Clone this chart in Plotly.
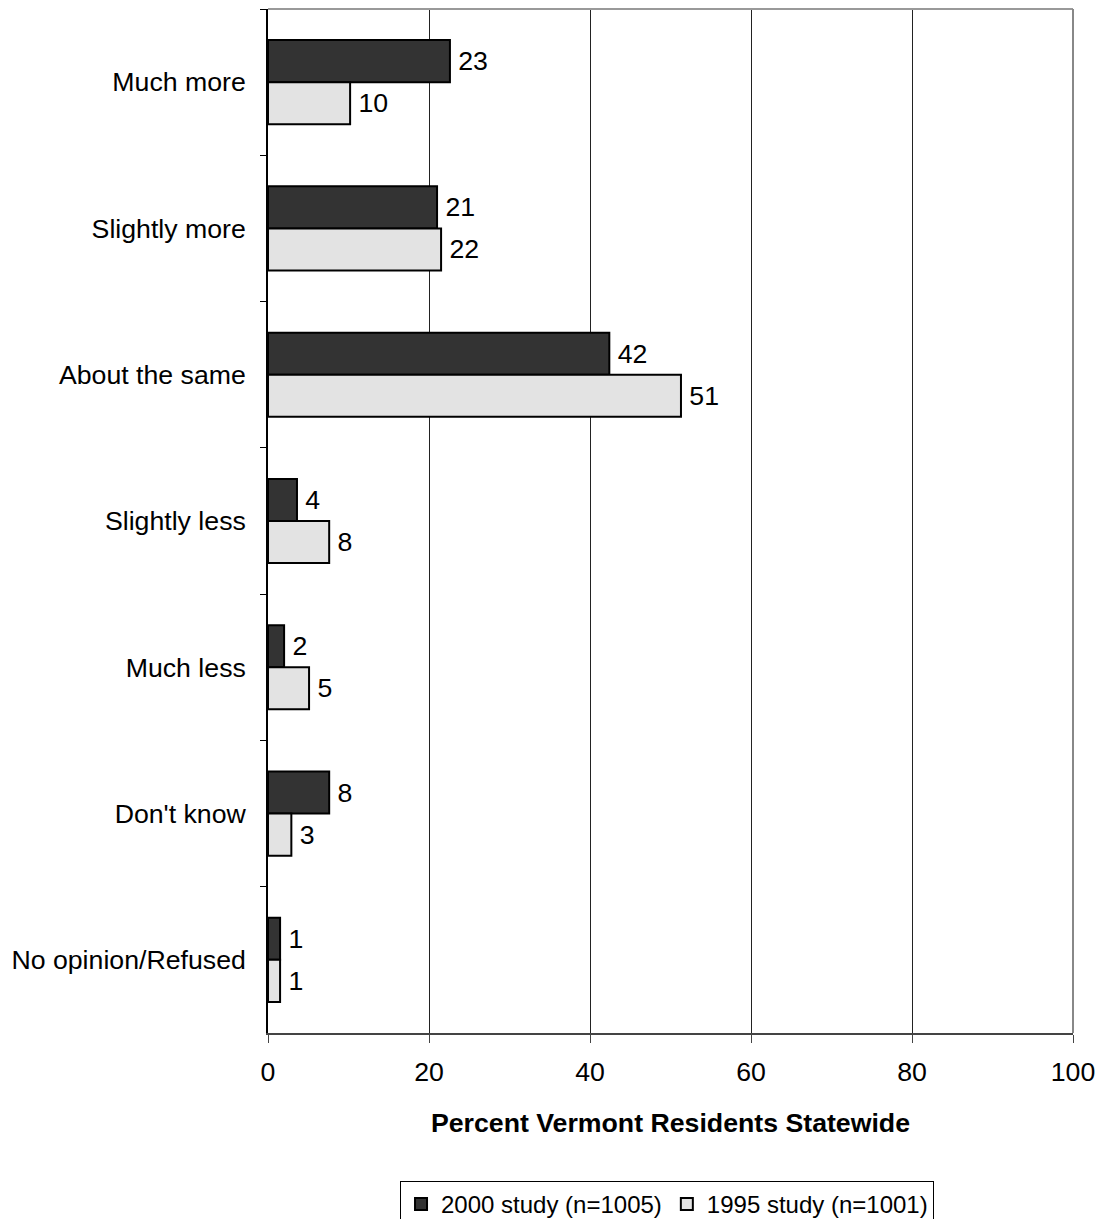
import plotly.graph_objects as go

categories = ["Much more", "Slightly more", "About the same", "Slightly less",
              "Much less", "Don't know", "No opinion/Refused"]
values_2000 = [22.6, 21.0, 42.4, 3.6, 2.0, 7.6, 1.5]
values_1995 = [10.2, 21.5, 51.3, 7.6, 5.1, 2.9, 1.5]
labels_2000 = ["23", "21", "42", "4", "2", "8", "1"]
labels_1995 = ["10", "22", "51", "8", "5", "3", "1"]
series_names = ["2000 study (n=1005)", "1995 study (n=1001)"]
x_ticks = [0, 20, 40, 60, 80, 100]

FONT = "Liberation Sans, Arial, sans-serif"
FS = 26.7

fig = go.Figure()
fig.add_trace(go.Bar(
    y=categories, x=values_2000, orientation="h", name=series_names[0],
    text=labels_2000, texttemplate="\u2009%{text}", textposition="outside", cliponaxis=False,
    textfont=dict(size=FS, color="black", family=FONT),
    marker=dict(color="#333333", line=dict(color="black", width=2)),
))
fig.add_trace(go.Bar(
    y=categories, x=values_1995, orientation="h", name=series_names[1],
    text=labels_1995, texttemplate="\u2009%{text}", textposition="outside", cliponaxis=False,
    textfont=dict(size=FS, color="black", family=FONT),
    marker=dict(color="#e3e3e3", line=dict(color="black", width=2)),
))

fig.update_layout(
    width=1099, height=1240,
    margin=dict(l=268, r=26, t=9, b=207, autoexpand=False),
    paper_bgcolor="white", plot_bgcolor="white",
    barmode="group", bargap=0.425, bargroupgap=0,
    font=dict(family=FONT, size=FS, color="black"),
    showlegend=True,
    legend=dict(orientation="h", x=0.164, xanchor="left", y=-0.1445, yanchor="top",
                bordercolor="black", borderwidth=1, font=dict(size=24),
                itemwidth=30, traceorder="normal", bgcolor="white"),
)
fig.update_xaxes(
    range=[0, 100], tickvals=x_ticks, ticks="outside", ticklen=8, tickcolor="#444",
    showline=True, linecolor="#444", linewidth=2, mirror=False,
    showgrid=True, gridcolor="#222", gridwidth=1, zeroline=False,
    tickfont=dict(size=FS), ticklabelstandoff=6, ticklabeloverflow="allow",
    title=dict(text="<b>Percent Vermont Residents Statewide</b>", font=dict(size=FS), standoff=27),
)
fig.update_yaxes(
    autorange="reversed", ticks="outside", tickson="boundaries", ticklen=6,
    tickcolor="black", showline=True, linecolor="black", linewidth=2,
    showgrid=False, tickfont=dict(size=FS), ticksuffix="  ",
)
# top and right borders
fig.add_shape(type="line", xref="paper", yref="paper", x0=0, x1=1, y0=1, y1=1,
              line=dict(color="#999", width=2))
fig.add_shape(type="line", xref="paper", yref="paper", x0=1, x1=1, y0=0, y1=1,
              line=dict(color="#888", width=2))

fig.write_html(
    "out.html",
    config={"displayModeBar": False},
    post_script=("document.body.style.margin='0';"
                 "document.documentElement.style.overflow='hidden';"
                 "document.body.style.overflow='hidden';"),
)
